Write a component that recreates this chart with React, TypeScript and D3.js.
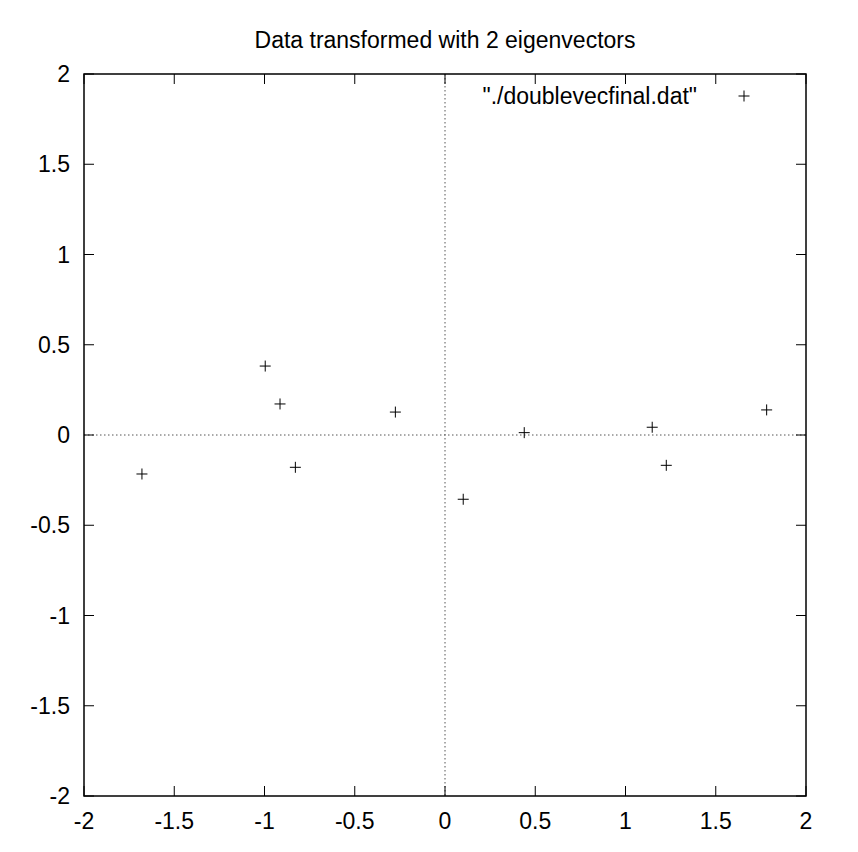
import React from "react";
import * as d3 from "d3";

const title = "Data transformed with 2 eigenvectors";
const legendLabel = "\"./doublevecfinal.dat\"";
const xValues = [-1.679, -0.996, -0.914, -0.829, -0.275, 0.101, 0.439, 1.148, 1.226, 1.782];
const yValues = [-0.216, 0.382, 0.172, -0.179, 0.127, -0.356, 0.013, 0.043, -0.168, 0.139];
const xTicks = [-2, -1.5, -1, -0.5, 0, 0.5, 1, 1.5, 2];
const yTicks = [-2, -1.5, -1, -0.5, 0, 0.5, 1, 1.5, 2];

const W = 858, H = 852;
const left = 84, right = 806, top = 74, bottom = 796;
const font = "'Liberation Sans', Arial, Helvetica, sans-serif";
const fs = 23;

export default function App() {
  const x = d3.scaleLinear().domain([-2, 2]).range([left, right]);
  const y = d3.scaleLinear().domain([-2, 2]).range([bottom, top]);
  const tl = 10;
  const ms = 5.5;
  const plus = (cx: number, cy: number, k: string | number) => (
    <g key={k} stroke="#000" strokeWidth={1}>
      <line x1={cx - ms} x2={cx + ms} y1={cy} y2={cy} />
      <line x1={cx} x2={cx} y1={cy - ms} y2={cy + ms} />
    </g>
  );
  return (
    <svg width={W} height={H} style={{ position: "absolute", left: 0, top: 0, background: "#fff" }}>
      <rect x={0} y={0} width={W} height={H} fill="#fff" />
      <text x={445} y={48} textAnchor="middle" fontFamily={font} fontSize={fs}>{title}</text>
      {/* zero axes */}
      <line x1={x(0)} x2={x(0)} y1={top} y2={bottom} stroke="#555" strokeDasharray="1.5,2.5" />
      <line x1={left} x2={right} y1={y(0)} y2={y(0)} stroke="#555" strokeDasharray="1.5,2.5" />
      {/* ticks */}
      {xTicks.map((t, i) => (
        <g key={"xt" + i} stroke="#000" strokeWidth={1}>
          <line x1={x(t)} x2={x(t)} y1={bottom} y2={bottom - tl} />
          <line x1={x(t)} x2={x(t)} y1={top} y2={top + tl} />
        </g>
      ))}
      {yTicks.map((t, i) => (
        <g key={"yt" + i} stroke="#000" strokeWidth={1}>
          <line x1={left} x2={left + tl} y1={y(t)} y2={y(t)} />
          <line x1={right} x2={right - tl} y1={y(t)} y2={y(t)} />
        </g>
      ))}
      <rect x={left} y={top} width={right - left} height={bottom - top} fill="none" stroke="#000" strokeWidth={1.5} />
      {xTicks.map((t, i) => (
        <text key={"xl" + i} x={x(t)} y={829} textAnchor="middle" fontFamily={font} fontSize={fs}>{String(t)}</text>
      ))}
      {yTicks.map((t, i) => (
        <text key={"yl" + i} x={70} y={y(t) + 8} textAnchor="end" fontFamily={font} fontSize={fs}>{String(t)}</text>
      ))}
      {xValues.map((v, i) => plus(x(v), y(yValues[i]), "p" + i))}
      <text x={697} y={104} textAnchor="end" fontFamily={font} fontSize={fs}>{legendLabel}</text>
      {plus(744, 96, "legend")}
    </svg>
  );
}
